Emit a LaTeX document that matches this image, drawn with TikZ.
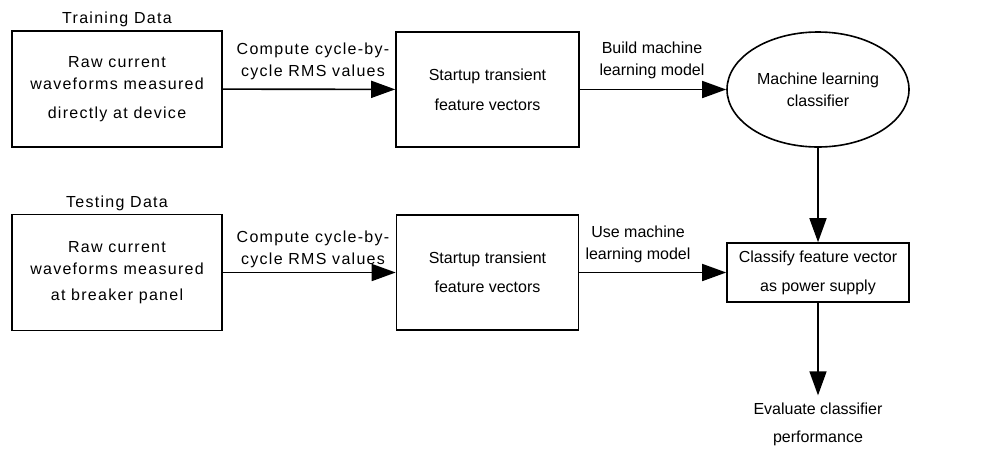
\documentclass[tikz,border=0pt]{standalone}
\usepackage{fontspec}
\setmainfont{Liberation Sans}
\usetikzlibrary{arrows.meta,shapes.geometric}
\begin{document}
\begin{tikzpicture}[x=1pt,y=-1pt,
  every node/.style={font=\fontsize{16}{22}\selectfont, align=center, inner sep=0pt},
  wide/.style={font=\fontsize{16}{22}\selectfont\addfontfeature{LetterSpace=8}},
  stepbox/.style={draw, line width=1.6pt, rectangle},
  oval/.style={draw, line width=1.6pt, ellipse},
  flow/.style={line width=1.6pt, -{Triangle[length=24pt,width=17pt]}}]
  \useasboundingbox (0,0) rectangle (981,448);

  % training row
  \node[wide] (trainlbl) at (117,19) {Training Data};
  \node[stepbox, wide, minimum width=210pt, minimum height=116pt] (raw1) at (117,89)
    {Raw current\\waveforms measured\\[7pt]directly at device};
  \node[stepbox, minimum width=183pt, minimum height=115pt] (feat1) at (487.5,89.5)
    {Startup transient\\[8pt]feature vectors};
  \node[oval, minimum width=182pt, minimum height=115pt] (clf) at (818,89.5)
    {Machine learning\\classifier};

  % testing row
  \node[wide] (testlbl) at (117,203) {Testing Data};
  \node[stepbox, wide, minimum width=210pt, minimum height=116pt] (raw2) at (117,272.5)
    {Raw current\\waveforms measured\\[4pt]at breaker panel};
  \node[stepbox, minimum width=182pt, minimum height=115pt] (feat2) at (487.5,272.5)
    {Startup transient\\[7pt]feature vectors};
  \node[stepbox, minimum width=182pt, minimum height=59pt] (cls) at (818,272.5)
    {Classify feature vector\\[7pt]as power supply};

  \node (eval) at (818,424) {Evaluate classifier\\[6pt]performance};

  % connectors
  \draw[flow] (raw1) -- (feat1);
  \draw[flow] (feat1) -- (clf);
  \draw[flow] (raw2) -- (feat2);
  \draw[flow] (feat2) -- (cls);
  \draw[flow] (clf.south) -- (cls.north);
  \draw[flow, shorten >=7pt] (cls.south) -- (eval.north);

  % connector labels
  \node[wide] (c1) at (313,61) {Compute cycle-by-\\cycle RMS values};
  \node (b1) at (652,60) {Build machine\\learning model};
  \node[wide] (c2) at (313,249) {Compute cycle-by-\\cycle RMS values};
  \node (u2) at (638,244) {Use machine\\learning model};
\end{tikzpicture}
\end{document}
